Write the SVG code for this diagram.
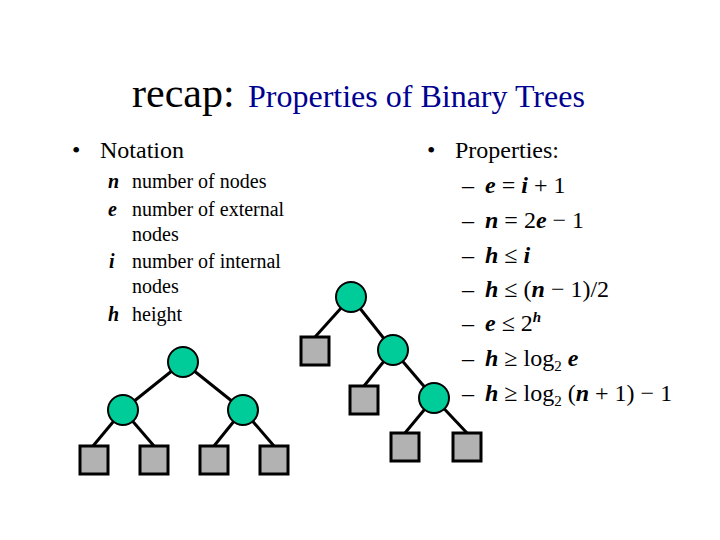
<svg xmlns="http://www.w3.org/2000/svg" width="720" height="540" viewBox="0 0 720 540">
<style>
text{font-family:"Liberation Serif","Times New Roman",serif;fill:#000}
.t1{font-size:42px}
.t2{font-size:32px;fill:#000090}
.b{font-size:24px}
.s{font-size:20px;font-family:"Liberation Serif","Times New Roman",serif}
.v{font-weight:bold;font-style:italic}
.sub{font-size:15px}
.inode{fill:#00CC99;stroke:#000;stroke-width:2}
.leaf{fill:#B2B2B2;stroke:#000;stroke-width:3}
.edge{stroke:#000;stroke-width:3;fill:none}
</style>
<rect width="720" height="540" fill="#fff"/>
<g id="title">
<text class="t1" x="132" y="107">recap:</text>
<text class="t2" x="248" y="107">Properties of Binary Trees</text>
</g>
<g id="notation">
<text class="b" x="72" y="158">•</text>
<text class="b" x="100" y="158">Notation</text>
<text class="s v" x="108" y="188">n</text>
<text class="s" x="132" y="188">number of nodes</text>
<text class="s v" x="108" y="216">e</text>
<text class="s" x="132" y="216">number of external</text>
<text class="s" x="132" y="241">nodes</text>
<text class="s v" x="109" y="268">i</text>
<text class="s" x="132" y="268">number of internal</text>
<text class="s" x="132" y="293">nodes</text>
<text class="s v" x="108" y="321">h</text>
<text class="s" x="132" y="321">height</text>
</g>
<g id="properties">
<text class="b" x="427" y="158">•</text>
<text class="b" x="455" y="158">Properties:</text>
<text class="b" x="462" y="193">–</text>
<text class="b" x="462" y="228">–</text>
<text class="b" x="462" y="263">–</text>
<text class="b" x="462" y="297">–</text>
<text class="b" x="462" y="331">–</text>
<text class="b" x="462" y="366">–</text>
<text class="b" x="462" y="401">–</text>
<text class="b" x="485" y="193"><tspan class="v">e</tspan> = <tspan class="v">i</tspan> + 1</text>
<text class="b" x="485" y="228"><tspan class="v">n</tspan> = 2<tspan class="v">e</tspan> − 1</text>
<text class="b" x="485" y="263"><tspan class="v">h</tspan> ≤ <tspan class="v">i</tspan></text>
<text class="b" x="485" y="297"><tspan class="v">h</tspan> ≤ (<tspan class="v">n</tspan> − 1)/2</text>
<text class="b" x="485" y="331"><tspan class="v">e</tspan> ≤ 2<tspan class="v sub" dy="-9">h</tspan></text>
<text class="b" x="485" y="366"><tspan class="v">h</tspan> ≥ log<tspan class="sub" dy="5">2</tspan><tspan dy="-5"> </tspan><tspan class="v">e</tspan></text>
<text class="b" x="485" y="401"><tspan class="v">h</tspan> ≥ log<tspan class="sub" dy="5">2</tspan><tspan dy="-5"> (</tspan><tspan class="v">n</tspan> + 1) − 1</text>
</g>
<g id="connectors">
<line class="edge" x1="183" y1="362" x2="123" y2="410"/>
<line class="edge" x1="183" y1="362" x2="243" y2="410"/>
<line class="edge" x1="123" y1="410" x2="93" y2="446"/>
<line class="edge" x1="123" y1="410" x2="154" y2="446"/>
<line class="edge" x1="243" y1="410" x2="214" y2="446"/>
<line class="edge" x1="243" y1="410" x2="274" y2="446"/>
<line class="edge" x1="351" y1="297" x2="315" y2="337"/>
<line class="edge" x1="351" y1="297" x2="393" y2="350"/>
<line class="edge" x1="393" y1="350" x2="364" y2="386"/>
<line class="edge" x1="393" y1="350" x2="434" y2="398"/>
<line class="edge" x1="434" y1="398" x2="405" y2="433"/>
<line class="edge" x1="434" y1="398" x2="467" y2="433"/>
</g>
<g id="treeA-root"><circle class="inode" cx="183" cy="362" r="15"/></g>
<g id="treeA-left"><circle class="inode" cx="123" cy="410" r="15"/></g>
<g id="treeA-right"><circle class="inode" cx="243" cy="410" r="15"/></g>
<g id="treeA-leaf1"><rect class="leaf" x="80" y="446" width="28" height="28"/></g>
<g id="treeA-leaf2"><rect class="leaf" x="140" y="446" width="28" height="28"/></g>
<g id="treeA-leaf3"><rect class="leaf" x="200" y="446" width="28" height="28"/></g>
<g id="treeA-leaf4"><rect class="leaf" x="260" y="446" width="28" height="28"/></g>
<g id="treeB-root"><circle class="inode" cx="351" cy="297" r="15"/></g>
<g id="treeB-mid"><circle class="inode" cx="393" cy="350" r="15"/></g>
<g id="treeB-low"><circle class="inode" cx="434" cy="398" r="15"/></g>
<g id="treeB-leaf1"><rect class="leaf" x="301" y="337" width="28" height="28"/></g>
<g id="treeB-leaf2"><rect class="leaf" x="350" y="386" width="28" height="28"/></g>
<g id="treeB-leaf3"><rect class="leaf" x="391" y="433" width="28" height="28"/></g>
<g id="treeB-leaf4"><rect class="leaf" x="453" y="433" width="28" height="28"/></g>
</svg>
